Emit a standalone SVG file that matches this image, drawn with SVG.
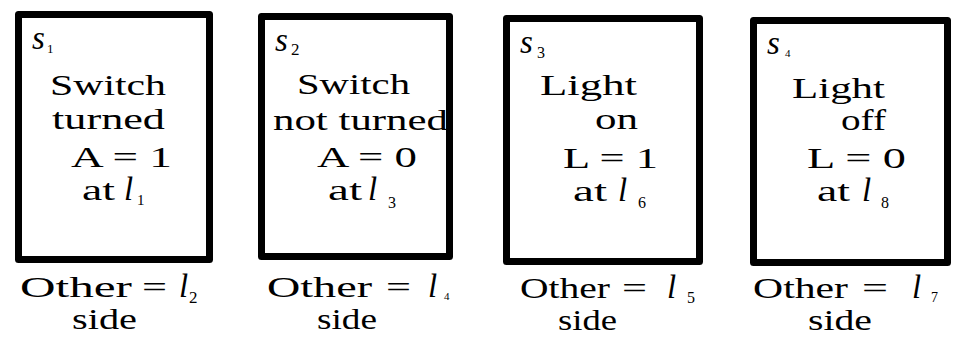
<svg xmlns="http://www.w3.org/2000/svg" width="954" height="344" viewBox="0 0 954 344">
<style>
.box{fill:#fff;stroke:#000;stroke-width:7;stroke-linejoin:round}
.t{font-family:"Liberation Serif","DejaVu Serif",serif;font-size:29px;fill:#000}
.i{font-family:"Liberation Serif","DejaVu Serif",serif;font-style:italic;font-size:33px;fill:#000}
.n{font-family:"Liberation Serif","DejaVu Serif",serif;font-style:italic;font-size:33px;fill:#000}
.s{font-family:"Liberation Serif","DejaVu Serif",serif;font-size:15px;fill:#000}
</style>
<rect width="954" height="344" fill="#fff"/>
<g id="connectors"></g>
<g id="s1">
<rect class="box" x="18.5" y="14.5" width="191" height="245"/>
<text class="n" x="32" y="49">s</text><text class="s" x="47" y="53" style="font-size:13px">1</text>
<text class="t" x="50" y="95" textLength="116" lengthAdjust="spacingAndGlyphs">Switch</text>
<text class="t" x="52" y="129" textLength="113" lengthAdjust="spacingAndGlyphs">turned</text>
<text class="t" x="71" y="167" textLength="101" lengthAdjust="spacingAndGlyphs">A = 1</text>
<text class="t" x="82" y="200" textLength="33" lengthAdjust="spacingAndGlyphs">at</text><text class="i" x="124" y="200">l</text><text class="s" x="137" y="205">1</text>
<text class="t" x="20" y="297" textLength="112" lengthAdjust="spacingAndGlyphs">Other</text><text class="t" x="142" y="297" textLength="25" lengthAdjust="spacingAndGlyphs">=</text><text class="i" x="179" y="297">l</text><text class="s" x="189" y="303" style="font-size:17px">2</text>
<text class="t" x="72" y="329" textLength="65" lengthAdjust="spacingAndGlyphs">side</text>
</g>
<g id="s2">
<rect class="box" x="261.5" y="16.5" width="188" height="240"/>
<text class="n" x="275" y="51">s</text><text class="s" x="291" y="55" style="font-size:17px">2</text>
<text class="t" x="297" y="94" textLength="113" lengthAdjust="spacingAndGlyphs">Switch</text>
<text class="t" x="273" y="130" textLength="175" lengthAdjust="spacingAndGlyphs">not turned</text>
<text class="t" x="317" y="167" textLength="100" lengthAdjust="spacingAndGlyphs">A = 0</text>
<text class="t" x="328" y="200" textLength="34" lengthAdjust="spacingAndGlyphs">at</text><text class="i" x="368" y="200">l</text><text class="s" x="388" y="208" style="font-size:16px">3</text>
<text class="t" x="267" y="297" textLength="105" lengthAdjust="spacingAndGlyphs">Other</text><text class="t" x="386" y="297" textLength="25" lengthAdjust="spacingAndGlyphs">=</text><text class="i" x="428" y="297">l</text><text class="s" x="444" y="300" style="font-size:11px">4</text>
<text class="t" x="317" y="329" textLength="60" lengthAdjust="spacingAndGlyphs">side</text>
</g>
<g id="s3">
<rect class="box" x="506.5" y="18.5" width="193" height="243"/>
<text class="n" x="520" y="53">s</text><text class="s" x="537" y="58" style="font-size:16px">3</text>
<text class="t" x="540" y="95" textLength="97" lengthAdjust="spacingAndGlyphs">Light</text>
<text class="t" x="595" y="129" textLength="43" lengthAdjust="spacingAndGlyphs">on</text>
<text class="t" x="563" y="168" textLength="95" lengthAdjust="spacingAndGlyphs">L = 1</text>
<text class="t" x="573" y="201" textLength="34" lengthAdjust="spacingAndGlyphs">at</text><text class="i" x="618" y="201">l</text><text class="s" x="638" y="208" style="font-size:16px">6</text>
<text class="t" x="520" y="298" textLength="90" lengthAdjust="spacingAndGlyphs">Other</text><text class="t" x="622" y="298" textLength="25" lengthAdjust="spacingAndGlyphs">=</text><text class="i" x="667" y="298">l</text><text class="s" x="687" y="303" style="font-size:16px">5</text>
<text class="t" x="558" y="330" textLength="59" lengthAdjust="spacingAndGlyphs">side</text>
</g>
<g id="s4">
<rect class="box" x="753.5" y="20.5" width="194" height="242"/>
<text class="n" x="767" y="54">s</text><text class="s" x="785" y="57" style="font-size:11px">4</text>
<text class="t" x="792" y="98" textLength="93" lengthAdjust="spacingAndGlyphs">Light</text>
<text class="t" x="841" y="130" textLength="45" lengthAdjust="spacingAndGlyphs">off</text>
<text class="t" x="807" y="168" textLength="99" lengthAdjust="spacingAndGlyphs">L = 0</text>
<text class="t" x="817" y="201" textLength="33" lengthAdjust="spacingAndGlyphs">at</text><text class="i" x="862" y="201">l</text><text class="s" x="881" y="208" style="font-size:16px">8</text>
<text class="t" x="753" y="298" textLength="95" lengthAdjust="spacingAndGlyphs">Other</text><text class="t" x="862" y="298" textLength="26" lengthAdjust="spacingAndGlyphs">=</text><text class="i" x="912" y="298">l</text><text class="s" x="931" y="302" style="font-size:14px">7</text>
<text class="t" x="808" y="330" textLength="64" lengthAdjust="spacingAndGlyphs">side</text>
</g>
</svg>
